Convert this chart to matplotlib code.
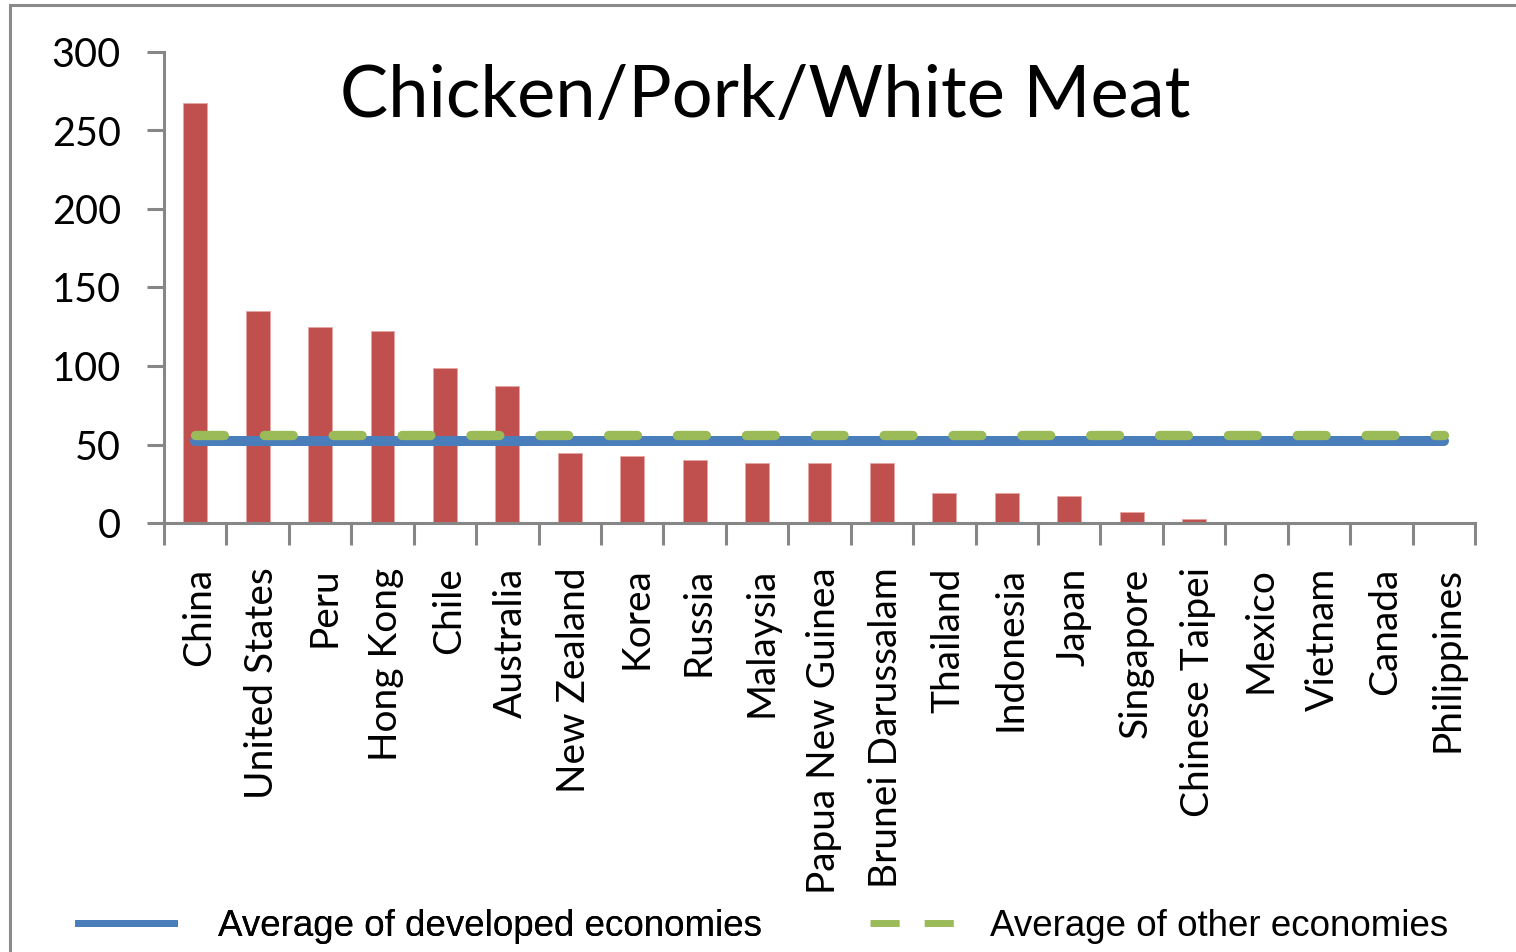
import matplotlib
matplotlib.use('Agg')
import matplotlib.pyplot as plt
import matplotlib.transforms as mtransforms
from matplotlib.lines import Line2D
from matplotlib.patches import Rectangle
import numpy as np

countries = ['China', 'United States', 'Peru', 'Hong Kong', 'Chile', 'Australia',
             'New Zealand', 'Korea', 'Russia', 'Malaysia', 'Papua New Guinea',
             'Brunei Darussalam', 'Thailand', 'Indonesia', 'Japan', 'Singapore',
             'Chinese Taipei', 'Mexico', 'Vietnam', 'Canada', 'Philippines']
values = [267.5, 135, 125, 122, 99, 87, 44.5, 42.5, 40, 38, 38, 38,
          19, 19, 17, 7, 2.5, 0, 0, 0, 0]
avg_developed = 52.3
avg_other = 56.2

red = '#C0504D'
blue = '#4A7EBB'
green = '#9BBB59'
gray = '#868686'

fig = plt.figure(figsize=(15.16, 9.52), dpi=100)
ax = fig.add_axes([164 / 1516, 1 - 523 / 952, (1475 - 164) / 1516, (523 - 52) / 952])

x = np.arange(len(countries))
ax.bar(x, values, width=0.38, color=red, edgecolor='#E6A5A3', linewidth=0.6, zorder=2)

ax.plot([x[0], x[-1]], [avg_developed] * 2, color=blue, lw=7.2,
        solid_capstyle='round', zorder=3)
ax.plot([x[0], x[-1]], [avg_other] * 2, color=green, lw=6.7,
        dashes=(3.1, 4.3), dash_capstyle='round', zorder=4)

ax.set_xlim(-0.5, len(countries) - 0.5)
ax.set_ylim(0, 300)
ax.set_yticks([0, 50, 100, 150, 200, 250, 300])

ax.set_xticks(x)
ax.set_xticklabels(countries, rotation=90, fontfamily='Lato', fontsize=28)
ax.set_xticks(np.arange(-0.5, len(countries)), minor=True)
ax.tick_params(axis='x', which='major', length=0, pad=32)
ax.tick_params(axis='x', which='minor', length=16, width=2.2, color=gray, direction='out')
ax.tick_params(axis='y', length=12, width=2.2, color=gray, pad=19, labelsize=28.5)
for lbl in ax.get_yticklabels():
    lbl.set_fontfamily('Lato')
shift = mtransforms.ScaledTranslation(4 / 100, 0, fig.dpi_scale_trans)
for lbl in ax.get_xticklabels():
    lbl.set_transform(lbl.get_transform() + shift)

for s in ['top', 'right']:
    ax.spines[s].set_visible(False)
for s in ['left', 'bottom']:
    ax.spines[s].set_color(gray)
    ax.spines[s].set_linewidth(2.2)

fig.text(765 / 1516, 1 - 117 / 952, 'Chicken/Pork/White Meat', fontfamily='Lato',
         fontsize=52, ha='center', va='baseline')

leg_kw = dict(loc='center left', frameon=False,
              prop={'family': 'Liberation Sans', 'size': 26.5},
              handlelength=2.6, borderpad=0, borderaxespad=0)
leg1 = fig.legend([Line2D([], [], color=blue, lw=5)], ['Average of developed economies'],
                  bbox_to_anchor=(78 / 1516, 1 - 926 / 952), handletextpad=1.2, **leg_kw)
fig.add_artist(leg1)
fig.legend([Line2D([], [], color=green, lw=5, dashes=(4.2, 3.6))], ['Average of other economies'],
           bbox_to_anchor=(870 / 1516, 1 - 926 / 952), handletextpad=0.65, **leg_kw)

fig.patches.append(Rectangle((10 / 1516, -0.1), 1.2, 1.1 - 5 / 952, transform=fig.transFigure,
                             fill=False, edgecolor='#8A8A8A', linewidth=2.2, clip_on=False))

fig.savefig('out.png', dpi=100)
